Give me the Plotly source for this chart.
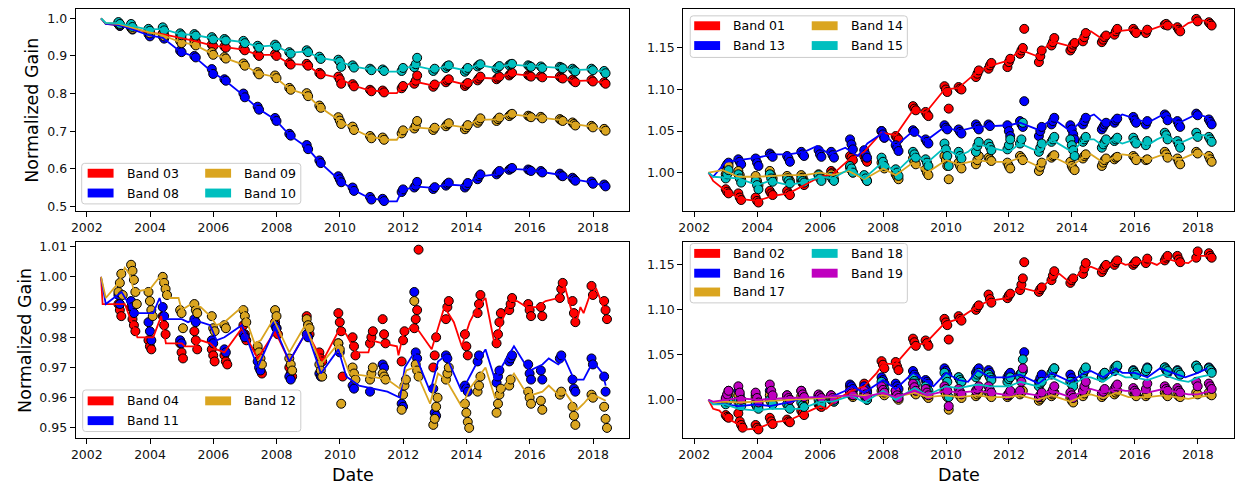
import plotly.graph_objects as go

W, H = 1238, 487
FONT = "DejaVu Sans"

# Calibration campaign dates (decimal years); each cluster's points are listed in time order
EPOCHS = [2003.0, 2003.4, 2003.95, 2004.4, 2004.95, 2005.4, 2005.95, 2006.35,
          2006.95, 2007.4, 2007.95, 2008.4, 2008.95, 2009.35, 2009.95, 2010.4,
          2010.95, 2011.35, 2011.95, 2012.35, 2012.95, 2013.35, 2013.95, 2014.35,
          2014.95, 2015.35, 2015.95, 2016.35, 2016.95, 2017.35, 2017.95, 2018.35]

YEAR_TICKS = [2002, 2004, 2006, 2008, 2010, 2012, 2014, 2016, 2018]

# ---------------- Panel 1: bands 03, 08, 09, 10 ----------------
B03_PTS = ["0.985 0.980", "0.977 0.973", "0.963 0.960", "0.960 0.956", "0.950 0.946",
           "0.942 0.938", "0.930 0.926", "0.925 0.922", "0.920 0.915", "0.905 0.900",
           "0.905 0.900", "0.881 0.877", "0.879 0.874", "0.855 0.851", "0.845 0.838 0.826",
           "0.825 0.819", "0.810 0.806", "0.808 0.803", "0.814 0.820", "0.826 0.834 0.848",
           "0.818 0.824", "0.830 0.835 0.838", "0.820 0.824 0.828", "0.835 0.840 0.845",
           "0.838 0.842 0.845", "0.848 0.852 0.855", "0.849 0.847 0.845", "0.846 0.843",
           "0.845 0.842 0.840", "0.837 0.833 0.830", "0.836 0.832", "0.830 0.826"]
B08_PTS = ["0.985 0.980", "0.975 0.970", "0.958 0.952", "0.952 0.946", "0.914 0.910",
           "0.900 0.896", "0.865 0.852", "0.838 0.834", "0.800 0.790", "0.765 0.757",
           "0.735 0.727", "0.693 0.688", "0.663 0.652", "0.622 0.615", "0.580 0.572 0.564",
           "0.550 0.541", "0.525 0.518", "0.520 0.514", "0.538 0.545", "0.550 0.555 0.565",
           "0.546 0.551", "0.555 0.560 0.563", "0.550 0.555 0.562", "0.572 0.580 0.585",
           "0.585 0.590 0.594", "0.597 0.600 0.602", "0.598 0.596 0.594", "0.594 0.590",
           "0.587 0.582 0.580", "0.576 0.572 0.568", "0.566 0.560", "0.558 0.553"]
B09_PTS = ["0.988 0.983", "0.978 0.972", "0.966 0.960", "0.958 0.952", "0.940 0.934",
           "0.933 0.928", "0.910 0.903", "0.897 0.893", "0.880 0.874", "0.857 0.851",
           "0.848 0.841", "0.815 0.810", "0.801 0.793", "0.768 0.762", "0.737 0.728 0.719",
           "0.712 0.703", "0.687 0.681", "0.683 0.677", "0.694 0.702", "0.707 0.714 0.727",
           "0.703 0.709", "0.713 0.718 0.721", "0.705 0.710 0.716", "0.722 0.728 0.734",
           "0.727 0.732 0.736", "0.740 0.744 0.746", "0.741 0.739 0.737", "0.738 0.734",
           "0.732 0.729 0.727", "0.723 0.719 0.715", "0.714 0.710", "0.706 0.701"]
B10_PTS = ["0.990 0.985", "0.985 0.977", "0.972 0.967", "0.976 0.968", "0.960 0.955",
           "0.958 0.954", "0.950 0.944", "0.945 0.941", "0.940 0.934", "0.927 0.922",
           "0.930 0.925", "0.910 0.906", "0.915 0.910", "0.898 0.892", "0.890 0.885 0.871",
           "0.875 0.869", "0.866 0.862", "0.864 0.860", "0.860 0.868", "0.870 0.878 0.895",
           "0.860 0.866", "0.868 0.873 0.875", "0.858 0.863 0.868", "0.872 0.876 0.878",
           "0.866 0.870 0.873", "0.875 0.878 0.879", "0.875 0.873 0.871", "0.872 0.868",
           "0.871 0.869 0.867", "0.866 0.862 0.859", "0.866 0.862", "0.860 0.854"]

B03_FIT = [(2002.45, 1.0), (2002.6, 0.985), (2003.0, 0.982), (2003.4, 0.975), (2003.95, 0.962),
           (2004.4, 0.958), (2004.95, 0.948), (2005.4, 0.940), (2005.95, 0.928), (2006.35, 0.924),
           (2006.95, 0.917), (2007.4, 0.903), (2007.95, 0.903), (2008.4, 0.879), (2008.95, 0.876),
           (2009.35, 0.853), (2009.95, 0.842), (2010.4, 0.822), (2010.95, 0.808), (2011.35, 0.806),
           (2011.5, 0.801), (2011.8, 0.801), (2011.95, 0.816), (2012.35, 0.832), (2012.95, 0.821),
           (2013.35, 0.836), (2013.95, 0.824), (2014.35, 0.842), (2014.95, 0.840), (2015.35, 0.853),
           (2015.95, 0.848), (2016.35, 0.845), (2016.95, 0.843), (2017.35, 0.833), (2017.95, 0.835),
           (2018.35, 0.828)]
B08_FIT = [(2002.45, 1.0), (2002.6, 0.985), (2003.0, 0.982), (2003.4, 0.972), (2003.95, 0.955),
           (2004.4, 0.948), (2004.95, 0.912), (2005.4, 0.898), (2005.95, 0.858), (2006.35, 0.836),
           (2006.95, 0.795), (2007.4, 0.761), (2007.95, 0.731), (2008.4, 0.690), (2008.95, 0.657),
           (2009.35, 0.618), (2009.95, 0.572), (2010.4, 0.545), (2010.95, 0.521), (2011.35, 0.517),
           (2011.5, 0.513), (2011.8, 0.513), (2011.95, 0.540), (2012.35, 0.553), (2012.95, 0.549),
           (2013.35, 0.558), (2013.95, 0.555), (2014.35, 0.579), (2014.95, 0.585), (2015.35, 0.600),
           (2015.95, 0.597), (2016.35, 0.592), (2016.95, 0.584), (2017.35, 0.572), (2017.95, 0.564),
           (2018.35, 0.555)]
B09_FIT = [(2002.45, 1.0), (2002.6, 0.987), (2003.0, 0.985), (2003.4, 0.975), (2003.95, 0.963),
           (2004.4, 0.955), (2004.95, 0.937), (2005.4, 0.930), (2005.95, 0.906), (2006.35, 0.895),
           (2006.95, 0.877), (2007.4, 0.854), (2007.95, 0.844), (2008.4, 0.812), (2008.95, 0.797),
           (2009.35, 0.765), (2009.95, 0.730), (2010.4, 0.707), (2010.95, 0.684), (2011.35, 0.680),
           (2011.5, 0.677), (2011.8, 0.677), (2011.95, 0.698), (2012.35, 0.710), (2012.95, 0.706),
           (2013.35, 0.717), (2013.95, 0.710), (2014.35, 0.730), (2014.95, 0.731), (2015.35, 0.745),
           (2015.95, 0.740), (2016.35, 0.736), (2016.95, 0.730), (2017.35, 0.719), (2017.95, 0.712),
           (2018.35, 0.703)]
B10_FIT = [(2002.45, 1.0), (2002.6, 0.988), (2003.0, 0.987), (2003.4, 0.980), (2003.95, 0.970),
           (2004.4, 0.972), (2004.95, 0.958), (2005.4, 0.956), (2005.95, 0.947), (2006.35, 0.943),
           (2006.95, 0.937), (2007.4, 0.925), (2007.95, 0.928), (2008.4, 0.908), (2008.95, 0.912),
           (2009.35, 0.895), (2009.95, 0.887), (2010.4, 0.872), (2010.95, 0.864), (2011.35, 0.862),
           (2011.5, 0.858), (2011.8, 0.858), (2011.95, 0.864), (2012.35, 0.874), (2012.95, 0.863),
           (2013.35, 0.872), (2013.95, 0.862), (2014.35, 0.876), (2014.95, 0.868), (2015.35, 0.877),
           (2015.95, 0.873), (2016.35, 0.870), (2016.95, 0.868), (2017.35, 0.862), (2017.95, 0.864),
           (2018.35, 0.857)]

# ---------------- Panel 2: bands 01, 13, 14, 15 ----------------
B01_PTS = ["0.980 0.977 0.975", "0.975 0.970 0.967", "0.970 0.966 0.964", "0.978 0.975 0.973",
           "0.978 0.975 0.973", "0.990 0.987 0.985", "0.997 0.995 0.993", "1.002 1.000 0.998",
           "1.020 1.018 1.015", "1.020 1.016 1.013", "1.050 1.046 1.042", "1.044 1.042 1.040",
           "1.080 1.077 1.075", "1.073 1.070 1.068", "1.104 1.100 1.097 1.077", "1.103 1.101 1.100",
           "1.115 1.119 1.123", "1.125 1.129 1.132", "1.127 1.133 1.137", "1.143 1.147 1.150 1.173",
           "1.133 1.140 1.147", "1.153 1.157 1.162", "1.147 1.150 1.154 1.156", "1.158 1.163 1.168",
           "1.157 1.160 1.163 1.165", "1.166 1.170 1.173", "1.173 1.170 1.168", "1.168 1.172",
           "1.178 1.179 1.177", "1.175 1.172 1.170", "1.185 1.182", "1.181 1.179 1.177"]
B13_PTS = ["1.007 1.010 1.012", "1.016 1.013 1.010", "1.017 1.012 1.008", "1.023 1.021 1.019",
           "1.020 1.017 1.013", "1.025 1.022 1.020", "1.027 1.022 1.019", "1.025 1.021 1.018",
           "1.040 1.034 1.028", "1.027 1.022 1.018", "1.050 1.046 1.042", "1.033 1.030 1.026",
           "1.051 1.049", "1.040 1.037 1.035", "1.057 1.054 1.052", "1.052 1.049 1.047",
           "1.058 1.055 1.052", "1.058 1.056", "1.057 1.050 1.044", "1.062 1.058 1.055 1.086",
           "1.044 1.050 1.055", "1.058 1.062 1.066", "1.057 1.052 1.046 1.040", "1.058 1.062 1.066",
           "1.052 1.055 1.058 1.060", "1.060 1.063 1.065", "1.067 1.063 1.060", "1.058 1.062",
           "1.070 1.068 1.063", "1.062 1.058 1.055", "1.071 1.069", "1.064 1.061 1.058"]
B14_PTS = ["0.998 1.003 1.008", "1.002 0.997 0.992", "0.996 0.990 0.985", "1.002 0.997 0.993",
           "0.996 0.993 0.990", "0.997 0.994 0.990", "0.998 0.995 0.992", "0.998 0.995 0.992",
           "1.006 1.003 1.000", "0.996 0.993 0.990", "1.012 1.008 1.005", "0.998 0.995 0.992",
           "1.017 1.013 1.010", "1.004 1.000 0.997", "1.020 1.015 1.008 0.992", "1.012 1.008 1.005",
           "1.010 1.015 1.020", "1.018 1.016 1.014", "1.012 1.008 1.005", "1.020 1.018 1.015",
           "1.002 1.007 1.012", "1.018 1.020 1.021", "1.013 1.008 1.005 1.003", "1.017 1.020 1.022",
           "1.008 1.012 1.015 1.017", "1.016 1.018 1.019", "1.020 1.018 1.015", "1.015 1.016",
           "1.025 1.022 1.018", "1.017 1.013 1.010", "1.025 1.023", "1.020 1.016 1.013"]
B15_PTS = ["0.993 0.998 1.003", "0.998 0.993 0.988", "0.990 0.985 0.980", "0.998 0.993 0.989",
           "0.993 0.990 0.987", "0.993 0.990 0.988", "0.997 0.993 0.990", "0.995 0.992 0.990",
           "1.008 1.005 1.000", "0.997 0.993 0.990", "1.018 1.013 1.008", "1.004 1.000 0.996",
           "1.025 1.022 1.018", "1.016 1.012 1.008", "1.035 1.028 1.020 1.008", "1.025 1.020 1.017",
           "1.025 1.032 1.037", "1.035 1.031 1.027", "1.028 1.033 1.040", "1.035 1.040 1.060",
           "1.025 1.030 1.035", "1.037 1.040 1.043", "1.040 1.033 1.027 1.020", "1.037 1.040 1.043",
           "1.030 1.034 1.037 1.040", "1.038 1.040 1.042", "1.042 1.038 1.035", "1.033 1.038",
           "1.048 1.045 1.040", "1.038 1.034 1.030", "1.048 1.043", "1.043 1.040 1.037"]

B01_FIT = [(2002.45, 1.0), (2002.6, 0.990), (2003.0, 0.978), (2003.5, 0.968), (2004.0, 0.966),
           (2004.5, 0.972), (2005.0, 0.975), (2005.5, 0.985), (2006.0, 0.995), (2006.4, 0.998),
           (2006.9, 1.015), (2007.4, 1.025), (2007.95, 1.048), (2008.4, 1.045), (2008.95, 1.075),
           (2009.35, 1.072), (2009.95, 1.100), (2010.4, 1.102), (2010.95, 1.120), (2011.35, 1.128),
           (2012.0, 1.135), (2012.35, 1.148), (2012.9, 1.140), (2013.35, 1.158), (2013.95, 1.152),
           (2014.35, 1.165), (2014.6, 1.170), (2015.0, 1.160), (2015.4, 1.170), (2015.9, 1.172),
           (2016.35, 1.170), (2016.95, 1.178), (2017.2, 1.178), (2017.4, 1.172), (2017.7, 1.180),
           (2017.95, 1.183), (2018.2, 1.183), (2018.4, 1.179)]
B13_FIT = [(2002.45, 1.0), (2002.6, 0.995), (2003.0, 1.013), (2003.4, 1.015), (2004.0, 1.018),
           (2004.5, 1.022), (2005.0, 1.022), (2005.5, 1.025), (2005.9, 1.032), (2006.3, 1.022),
           (2006.8, 1.030), (2007.2, 1.020), (2007.5, 1.035), (2008.0, 1.048), (2008.4, 1.032),
           (2008.95, 1.050), (2009.35, 1.038), (2009.95, 1.055), (2010.4, 1.050), (2010.95, 1.055),
           (2011.35, 1.056), (2012.0, 1.057), (2012.35, 1.060), (2012.9, 1.052), (2013.4, 1.065),
           (2013.95, 1.050), (2014.4, 1.065), (2014.7, 1.070), (2015.0, 1.060), (2015.4, 1.065),
           (2015.6, 1.070), (2016.0, 1.065), (2016.4, 1.060), (2016.9, 1.070), (2017.4, 1.060),
           (2017.95, 1.070), (2018.3, 1.067), (2018.4, 1.060)]
B14_FIT = [(2002.45, 1.0), (2002.9, 1.003), (2003.4, 0.995), (2004.0, 0.995), (2004.5, 0.996),
           (2005.0, 0.997), (2005.5, 0.997), (2006.0, 1.000), (2006.4, 0.997), (2006.9, 1.002),
           (2007.4, 0.992), (2008.0, 1.005), (2008.4, 0.997), (2008.95, 1.012), (2009.4, 1.000),
           (2010.0, 1.015), (2010.4, 1.010), (2011.0, 1.015), (2011.4, 1.013), (2012.0, 1.013),
           (2012.35, 1.018), (2012.9, 1.008), (2013.35, 1.020), (2014.0, 1.008), (2014.4, 1.020),
           (2014.6, 1.022), (2015.0, 1.012), (2015.4, 1.020), (2015.6, 1.022), (2016.0, 1.020),
           (2016.4, 1.015), (2016.9, 1.022), (2017.4, 1.015), (2017.7, 1.020), (2018.0, 1.025),
           (2018.4, 1.018)]
B15_FIT = [(2002.45, 1.0), (2002.6, 0.995), (2003.0, 0.994), (2003.4, 0.993), (2004.0, 0.985),
           (2004.4, 0.990), (2005.0, 0.985), (2005.4, 0.988), (2006.0, 0.995), (2006.4, 0.993),
           (2006.95, 1.005), (2007.4, 0.993), (2008.0, 1.013), (2008.4, 1.000), (2009.0, 1.022),
           (2009.4, 1.012), (2009.95, 1.030), (2010.4, 1.020), (2010.7, 1.025), (2011.0, 1.035),
           (2011.4, 1.030), (2012.0, 1.025), (2012.35, 1.035), (2012.95, 1.025), (2013.35, 1.040),
           (2014.0, 1.025), (2014.4, 1.040), (2014.7, 1.040), (2015.0, 1.032), (2015.3, 1.040),
           (2015.6, 1.035), (2016.0, 1.040), (2016.4, 1.033), (2016.7, 1.040), (2017.0, 1.045),
           (2017.4, 1.035), (2017.7, 1.040), (2018.0, 1.045), (2018.2, 1.045), (2018.4, 1.040)]

# ---------------- Panel 3: bands 04, 11, 12 ----------------
B04_PTS = ["0.991 0.989 0.987", "0.990 0.986 0.984 0.982", "0.979 0.977 0.976", "0.987 0.984 0.981",
           "0.978 0.975 0.973", "0.982 0.979 0.976", "0.976 0.974 0.972", "0.974 0.972 0.971",
           "0.984 0.981 0.979", "0.976 0.972 0.969 0.968", "0.985 0.983 0.981", "0.970 0.968 0.967",
           "0.987 0.984 0.981", "0.975 0.973 0.972", "0.988 0.985 0.982 0.967", "0.980 0.977 0.974",
           "0.978 0.980 0.982", "0.986 0.981 0.978", "0.972 0.979 0.982", "0.983 0.986 0.989 1.009",
           "0.970 0.974 0.980", "0.986 0.990 0.992", "0.981 0.977 0.974", "0.988 0.991 0.994",
           "0.978 0.981 0.985 0.988", "0.989 0.991 0.993", "0.991 0.989 0.987", "0.990 0.987",
           "0.993 0.996 0.998", "0.992 0.988 0.985", "0.997 0.994", "0.992 0.989 0.986"]
B11_PTS = ["0.994 0.991", "0.992 0.990 0.988", "0.985 0.982 0.979", "0.990 0.987",
           "0.979 0.978", "0.986 0.985", "0.979 0.978", "0.976 0.975",
           "0.981 0.980", "0.972 0.970 0.969", "0.984 0.983", "0.967 0.966",
           "0.981 0.980", "0.968 0.967", "0.978 0.975", "0.964 0.963",
           "0.962", "0.971 0.970", "0.958 0.957", "0.995 0.975 0.973",
           "0.963 0.955 0.954", "0.974 0.973", "0.964 0.963 0.962", "0.972 0.974",
           "0.965 0.967 0.969", "0.972 0.973 0.974", "0.971 0.968 0.966", "0.969 0.966",
           "0.973 0.974", "0.966 0.963 0.962", "0.973 0.971", "0.967 0.962"]
B12_PTS = ["0.995 0.998 1.001 0.994", "1.004 1.002 0.999 0.995 0.991", "0.995 0.992 0.989 0.987",
           "1.000 0.998 0.996 0.994", "0.989 0.988 0.983", "0.991 0.989 0.988", "0.987 0.983 0.982",
           "0.984 0.983", "0.989 0.987 0.985", "0.977 0.975 0.973 0.971", "0.989 0.987",
           "0.973 0.971 0.969", "0.986 0.984 0.983", "0.971 0.969 0.967", "0.978 0.976 0.958",
           "0.970 0.968 0.966", "0.966 0.968 0.970", "0.968 0.967 0.966", "0.956 0.961 0.964 0.966",
           "0.992 0.971 0.969 0.967", "0.951 0.953 0.957 0.960", "0.966 0.968 0.970",
           "0.958 0.955 0.952 0.950", "0.962 0.964 0.967", "0.955 0.958 0.961 0.963", "0.964 0.966",
           "0.962 0.960 0.958", "0.959 0.956", "0.961 0.962", "0.957 0.954 0.951", "0.961 0.960",
           "0.957 0.953 0.950"]

B04_FIT = [(2002.45, 1.0), (2002.5, 0.991), (2003.2, 0.991), (2003.6, 0.980), (2004.1, 0.980),
           (2004.35, 0.987), (2004.5, 0.978), (2005.0, 0.978), (2005.1, 0.977), (2005.4, 0.977),
           (2005.6, 0.979), (2005.9, 0.978), (2006.1, 0.976), (2006.35, 0.975), (2006.9, 0.983),
           (2007.4, 0.973), (2007.95, 0.982), (2008.4, 0.972), (2008.95, 0.982), (2009.45, 0.972),
           (2010.0, 0.983), (2010.2, 0.981), (2010.5, 0.975), (2010.9, 0.975), (2011.0, 0.979),
           (2011.35, 0.978), (2011.8, 0.977), (2011.85, 0.974), (2012.0, 0.981), (2012.3, 0.984),
           (2012.5, 0.982), (2012.9, 0.976), (2013.3, 0.990), (2013.6, 0.985), (2013.85, 0.977),
           (2014.1, 0.985), (2014.35, 0.990), (2014.6, 0.993), (2014.9, 0.977), (2015.1, 0.985),
           (2015.4, 0.992), (2015.6, 0.992), (2015.9, 0.990), (2016.2, 0.990), (2016.5, 0.992),
           (2016.9, 0.993), (2017.1, 0.997), (2017.3, 0.990), (2017.45, 0.984), (2017.6, 0.990),
           (2017.7, 0.988), (2017.9, 0.994), (2018.1, 0.996), (2018.4, 0.988)]
B11_FIT = [(2002.45, 1.0), (2002.6, 0.991), (2003.1, 0.995), (2003.5, 0.988), (2004.1, 0.988),
           (2004.3, 0.993), (2004.5, 0.986), (2005.0, 0.986), (2005.2, 0.985), (2005.4, 0.986),
           (2005.6, 0.985), (2005.9, 0.984), (2006.1, 0.979), (2006.35, 0.980), (2006.9, 0.984),
           (2007.4, 0.970), (2007.95, 0.983), (2008.4, 0.972), (2008.95, 0.982), (2009.4, 0.968),
           (2009.95, 0.976), (2010.2, 0.967), (2010.6, 0.964), (2011.0, 0.963), (2011.5, 0.962),
           (2011.9, 0.960), (2012.05, 0.970), (2012.35, 0.975), (2012.85, 0.962), (2013.1, 0.972),
           (2013.35, 0.974), (2013.85, 0.962), (2014.3, 0.971), (2014.6, 0.976), (2014.9, 0.966),
           (2015.1, 0.970), (2015.5, 0.977), (2015.8, 0.972), (2016.0, 0.969), (2016.4, 0.971),
           (2016.6, 0.973), (2016.9, 0.971), (2017.1, 0.973), (2017.4, 0.966), (2017.7, 0.966),
           (2017.9, 0.970), (2018.0, 0.972), (2018.3, 0.968), (2018.4, 0.964)]
B12_FIT = [(2002.45, 1.0), (2002.6, 0.993), (2003.0, 0.998), (2003.2, 1.003), (2003.35, 1.001),
           (2003.5, 0.995), (2004.0, 0.996), (2004.3, 1.000), (2004.6, 0.993), (2004.9, 0.993),
           (2005.0, 0.989), (2005.3, 0.991), (2005.6, 0.990), (2005.9, 0.987), (2006.1, 0.984),
           (2006.35, 0.985), (2006.9, 0.990), (2007.3, 0.978), (2007.5, 0.979), (2007.9, 0.986),
           (2008.4, 0.975), (2008.9, 0.984), (2009.4, 0.971), (2009.95, 0.978), (2010.3, 0.968),
           (2011.0, 0.967), (2011.5, 0.966), (2011.9, 0.963), (2012.1, 0.969), (2012.35, 0.970),
           (2012.85, 0.958), (2013.1, 0.968), (2013.35, 0.966), (2013.85, 0.957), (2014.1, 0.963),
           (2014.4, 0.967), (2014.6, 0.970), (2014.9, 0.960), (2015.1, 0.962), (2015.5, 0.968),
           (2015.8, 0.963), (2016.1, 0.961), (2016.4, 0.962), (2016.6, 0.964), (2016.9, 0.961),
           (2017.1, 0.962), (2017.35, 0.958), (2017.5, 0.956), (2017.7, 0.958), (2017.95, 0.961),
           (2018.2, 0.960), (2018.4, 0.959)]

# ---------------- Panel 4: bands 02, 16, 17, 18, 19 ----------------
B02_PTS = ["0.983 0.981 0.980", "0.985 0.976 0.972 0.969", "0.972 0.969 0.967", "0.980 0.976 0.973",
           "0.978 0.976 0.975", "0.988 0.985 0.983", "0.995 0.993 0.992", "1.000 0.999 0.998",
           "1.015 1.012 1.010", "1.018 1.014 1.010", "1.043 1.039 1.035", "1.042 1.037 1.033",
           "1.068 1.064 1.060", "1.066 1.063 1.060", "1.090 1.086 1.083 1.067", "1.093 1.090 1.088",
           "1.100 1.103 1.105", "1.117 1.112 1.108", "1.113 1.116 1.118", "1.122 1.128 1.135 1.153",
           "1.120 1.123 1.125", "1.133 1.138 1.143", "1.130 1.133 1.135", "1.140 1.146 1.152",
           "1.142 1.145 1.148 1.150", "1.150 1.153 1.155", "1.150 1.152 1.154", "1.152 1.157",
           "1.155 1.158 1.160", "1.160 1.156 1.153", "1.158 1.165", "1.163 1.160 1.158"]
B16_PTS = ["1.000 1.005 1.010", "1.010 1.005 1.000", "1.005 1.000 0.995", "1.010 1.005 0.995",
           "1.005 1.000", "1.010 1.005 1.000", "1.005 1.000", "1.005 1.000",
           "1.017 1.015 1.012", "1.015 1.012 1.008", "1.025 1.022 1.018", "1.018 1.015 1.012",
           "1.032 1.028 1.025", "1.022 1.020 1.018", "1.035 1.032 1.028", "1.025 1.022 1.020",
           "1.030 1.033 1.035", "1.033 1.030 1.025", "1.025 1.028 1.030", "1.028 1.030 1.032 1.053",
           "1.020 1.024 1.028", "1.028 1.032 1.035", "1.028 1.024 1.020", "1.028 1.032 1.035",
           "1.025 1.027 1.030", "1.032 1.035 1.037", "1.033 1.030 1.028", "1.032 1.036",
           "1.036 1.033 1.030", "1.033 1.030 1.028", "1.038 1.035", "1.036 1.034 1.032"]
B17_PTS = ["0.998 1.002 1.005", "1.005 1.000 0.996", "1.002 0.998 0.994", "1.005 1.000 0.996",
           "1.002 0.999", "1.004 1.000 0.998", "1.004 1.000", "1.003 1.000",
           "1.008 1.005 1.003", "1.006 1.003 1.000", "1.010 1.007 1.005", "1.005 1.002 1.000",
           "1.012 1.008 1.006", "1.006 1.004 1.002", "1.010 1.006 1.003 0.989", "1.006 1.004 1.002",
           "1.004 1.006 1.008", "1.008 1.005 1.003", "1.003 1.005 1.006", "1.006 1.008 1.010",
           "0.999 1.001 1.003", "1.004 1.006 1.008", "1.002 0.999 0.997", "1.004 1.007 1.010",
           "1.003 1.005 1.007", "1.006 1.008 1.010", "1.008 1.006 1.004", "1.004 1.006",
           "1.008 1.006 1.004", "1.006 1.004 1.003", "1.008 1.006", "1.008 1.006 1.005"]
B18_PTS = ["0.995 0.998 1.000", "0.998 0.995 0.993", "0.995 0.992 0.990", "1.000 0.997 0.995",
           "0.995 0.992 0.990", "0.997 0.994 0.992", "1.000 0.997 0.995", "1.002 1.000 0.998",
           "1.010 1.007 1.005", "1.005 1.002 1.000", "1.020 1.016 1.012", "1.010 1.007 1.005",
           "1.025 1.021 1.018", "1.015 1.012 1.010", "1.030 1.025 1.020 1.003", "1.025 1.022 1.020",
           "1.025 1.028 1.030", "1.028 1.025 1.022", "1.020 1.023 1.025", "1.025 1.030 1.045",
           "1.015 1.018 1.020", "1.030 1.033 1.035", "1.020 1.017 1.015", "1.030 1.033 1.036",
           "1.025 1.028 1.030", "1.035 1.037 1.038", "1.032 1.030 1.028", "1.032 1.035",
           "1.036 1.034 1.032", "1.032 1.030 1.028", "1.038 1.035", "1.035 1.033 1.030"]
B19_PTS = ["1.002 1.006 1.010", "1.015 1.008 1.000", "1.008 1.002 0.997", "1.017 1.010 1.005",
           "1.005 1.002 1.000", "1.010 1.006 1.003", "1.006 1.004 1.002", "1.005 1.002 1.000",
           "1.010 1.007 1.005", "1.010 1.006 1.003", "1.015 1.011 1.008", "1.010 1.005 1.002",
           "1.018 1.014 1.010", "1.012 1.008 1.005", "1.015 1.012 1.010 0.993", "1.012 1.009 1.006",
           "1.010 1.012 1.015", "1.015 1.011 1.008", "1.005 1.007 1.010", "1.010 1.020 1.035",
           "1.003 1.005 1.008", "1.008 1.011 1.015", "1.008 1.005 1.002", "1.010 1.015 1.020",
           "1.007 1.009 1.012", "1.012 1.015 1.017", "1.013 1.010 1.008", "1.012 1.018",
           "1.015 1.012 1.010", "1.013 1.010 1.008", "1.020 1.015", "1.018 1.015 1.012"]

B02_FIT = [(2002.45, 1.0), (2002.6, 0.990), (2002.8, 0.988), (2003.0, 0.980), (2003.4, 0.973),
           (2003.6, 0.967), (2004.0, 0.968), (2004.5, 0.975), (2005.0, 0.977), (2005.5, 0.985),
           (2006.0, 0.993), (2006.2, 0.990), (2006.5, 1.000), (2007.0, 1.010), (2007.4, 1.015),
           (2007.8, 1.030), (2008.0, 1.040), (2008.4, 1.040), (2008.9, 1.060), (2009.35, 1.063),
           (2009.95, 1.085), (2010.4, 1.090), (2010.95, 1.103), (2011.35, 1.110), (2011.95, 1.113),
           (2012.35, 1.125), (2012.9, 1.120), (2013.35, 1.135), (2013.6, 1.140), (2013.95, 1.130),
           (2014.35, 1.145), (2014.6, 1.148), (2014.95, 1.143), (2015.4, 1.155), (2015.7, 1.150),
           (2016.0, 1.152), (2016.35, 1.155), (2016.7, 1.150), (2017.0, 1.157), (2017.4, 1.153),
           (2017.7, 1.152), (2018.0, 1.160), (2018.4, 1.160)]
B16_FIT = [(2002.45, 1.0), (2002.6, 0.997), (2003.0, 0.995), (2003.4, 0.993), (2004.0, 0.995),
           (2004.4, 0.993), (2005.0, 0.997), (2005.5, 1.002), (2006.0, 1.003), (2006.35, 1.003),
           (2006.8, 1.010), (2007.0, 1.015), (2007.4, 1.008), (2007.7, 1.015), (2008.0, 1.022),
           (2008.4, 1.012), (2008.95, 1.030), (2009.4, 1.020), (2009.6, 1.015), (2010.0, 1.030),
           (2010.4, 1.022), (2010.7, 1.020), (2011.0, 1.033), (2011.4, 1.025), (2011.95, 1.025),
           (2012.35, 1.028), (2012.95, 1.018), (2013.35, 1.030), (2013.95, 1.020), (2014.4, 1.030),
           (2014.6, 1.032), (2015.0, 1.025), (2015.4, 1.035), (2015.6, 1.030), (2016.0, 1.030),
           (2016.4, 1.025), (2016.8, 1.035), (2017.2, 1.030), (2017.6, 1.025), (2018.0, 1.030),
           (2018.3, 1.035)]
B17_FIT = [(2002.45, 1.0), (2002.6, 0.997), (2003.0, 0.998), (2003.4, 0.997), (2004.0, 0.998),
           (2005.0, 1.000), (2006.0, 1.002), (2007.0, 1.005), (2008.0, 1.005), (2008.4, 1.003),
           (2009.0, 1.008), (2009.4, 1.003), (2010.0, 1.005), (2010.4, 1.003), (2011.0, 1.005),
           (2011.4, 1.003), (2012.0, 1.003), (2012.35, 1.005), (2012.9, 1.000), (2013.35, 1.005),
           (2013.95, 0.998), (2014.4, 1.005), (2014.6, 1.006), (2015.0, 1.002), (2015.4, 1.008),
           (2015.8, 1.003), (2016.4, 1.003), (2016.9, 1.005), (2017.4, 1.002), (2017.7, 1.001),
           (2018.0, 1.003), (2018.4, 1.005)]
B18_FIT = [(2002.45, 1.0), (2002.6, 0.995), (2003.0, 0.995), (2003.4, 0.990), (2004.0, 0.988),
           (2004.4, 0.990), (2005.0, 0.990), (2005.4, 0.990), (2006.0, 0.998), (2006.4, 0.998),
           (2007.0, 1.005), (2007.4, 0.997), (2008.0, 1.010), (2008.4, 1.000), (2009.0, 1.013),
           (2009.4, 1.005), (2010.0, 1.015), (2010.4, 1.013), (2011.0, 1.017), (2011.4, 1.015),
           (2012.0, 1.015), (2012.35, 1.020), (2012.9, 1.015), (2013.35, 1.025), (2013.95, 1.015),
           (2014.4, 1.025), (2014.6, 1.025), (2015.0, 1.020), (2015.4, 1.030), (2015.7, 1.025),
           (2016.0, 1.025), (2016.4, 1.022), (2016.9, 1.028), (2017.4, 1.022), (2017.7, 1.020),
           (2018.0, 1.025), (2018.4, 1.028)]
B19_FIT = [(2002.45, 1.0), (2002.6, 0.998), (2003.0, 1.000), (2003.4, 1.002), (2004.0, 1.000),
           (2005.0, 1.002), (2006.0, 1.003), (2007.0, 1.005), (2007.4, 1.003), (2008.0, 1.008),
           (2008.4, 1.003), (2009.0, 1.010), (2009.4, 1.005), (2010.0, 1.010), (2010.4, 1.008),
           (2011.0, 1.010), (2011.4, 1.008), (2012.0, 1.005), (2012.35, 1.008), (2012.9, 1.005),
           (2013.35, 1.010), (2013.95, 1.003), (2014.4, 1.010), (2014.6, 1.012), (2015.0, 1.008),
           (2015.4, 1.012), (2015.7, 1.010), (2016.0, 1.010), (2016.4, 1.008), (2016.9, 1.012),
           (2017.4, 1.008), (2017.7, 1.006), (2018.0, 1.006), (2018.4, 1.010)]

RED, BLUE, GOLD, CYAN, MAGENTA = "#ff0000", "#0000ff", "#daa520", "#00bfbf", "#bf00bf"

# panel id -> list of (label, colour, points, fit)
PANELS = {
    1: [("Band 03", RED, B03_PTS, B03_FIT), ("Band 08", BLUE, B08_PTS, B08_FIT),
        ("Band 09", GOLD, B09_PTS, B09_FIT), ("Band 10", CYAN, B10_PTS, B10_FIT)],
    2: [("Band 01", RED, B01_PTS, B01_FIT), ("Band 13", BLUE, B13_PTS, B13_FIT),
        ("Band 14", GOLD, B14_PTS, B14_FIT), ("Band 15", CYAN, B15_PTS, B15_FIT)],
    3: [("Band 04", RED, B04_PTS, B04_FIT), ("Band 11", BLUE, B11_PTS, B11_FIT),
        ("Band 12", GOLD, B12_PTS, B12_FIT)],
    4: [("Band 02", RED, B02_PTS, B02_FIT), ("Band 16", BLUE, B16_PTS, B16_FIT),
        ("Band 17", GOLD, B17_PTS, B17_FIT), ("Band 18", CYAN, B18_PTS, B18_FIT),
        ("Band 19", MAGENTA, B19_PTS, B19_FIT)],
}

STEP = 0.045  # spacing (years) between successive observations in one campaign


def expand(clusters):
    xs, ys = [], []
    for t0, s in zip(EPOCHS, clusters):
        for k, v in enumerate(s.split()):
            xs.append(t0 + STEP * k)
            ys.append(float(v))
    return xs, ys


fig = go.Figure()

for pid, bands in PANELS.items():
    xa = "x" if pid == 1 else f"x{pid}"
    ya = "y" if pid == 1 else f"y{pid}"
    # observations first (underneath), then the fitted curves on top
    for label, col, pts, fit in bands:
        xs, ys = expand(pts)
        fig.add_trace(go.Scatter(x=xs, y=ys, mode="markers", xaxis=xa, yaxis=ya,
                                 marker=dict(size=9, color=col, line=dict(color="black", width=1)),
                                 showlegend=False, hoverinfo="skip"))
    for label, col, pts, fit in bands:
        fig.add_trace(go.Scatter(x=[p[0] for p in fit], y=[p[1] for p in fit], mode="lines",
                                 xaxis=xa, yaxis=ya, line=dict(color=col, width=1.8),
                                 showlegend=False, hoverinfo="skip"))


def px_x(p):
    return p / W


def px_y(p):
    return 1 - p / H


LEFT_X, RIGHT_X = (71, 627), (681, 1234)
TOP_Y, BOT_Y = (7, 211), (242, 441)

axis_common = dict(showline=True, linecolor="black", linewidth=1, mirror=True,
                   ticks="outside", ticklen=5, tickwidth=1, tickcolor="black",
                   showgrid=False, zeroline=False,
                   tickfont=dict(family=FONT, size=12.5, color="#111"))

Y_SPECS = {
    1: dict(range=[0.488, 1.025], tickvals=[0.5, 0.6, 0.7, 0.8, 0.9, 1.0], tickformat=".1f"),
    2: dict(range=[0.954, 1.197], tickvals=[1.00, 1.05, 1.10, 1.15], tickformat=".2f"),
    3: dict(range=[0.9465, 1.0117], tickvals=[0.95, 0.96, 0.97, 0.98, 0.99, 1.00, 1.01],
            tickformat=".2f"),
    4: dict(range=[0.957, 1.176], tickvals=[1.00, 1.05, 1.10, 1.15], tickformat=".2f"),
}
DOMS = {1: (LEFT_X, TOP_Y), 2: (RIGHT_X, TOP_Y), 3: (LEFT_X, BOT_Y), 4: (RIGHT_X, BOT_Y)}

layout = {}
for pid, ((x0, x1), (y0, y1)) in DOMS.items():
    xk = "xaxis" if pid == 1 else f"xaxis{pid}"
    yk = "yaxis" if pid == 1 else f"yaxis{pid}"
    ya = "y" if pid == 1 else f"y{pid}"
    xa = "x" if pid == 1 else f"x{pid}"
    layout[xk] = dict(axis_common, domain=[px_x(x0), px_x(x1)], anchor=ya,
                      range=[2001.65, 2019.15], tickvals=YEAR_TICKS,
                      ticktext=[str(y) for y in YEAR_TICKS])
    layout[yk] = dict(axis_common, domain=[px_y(y1), px_y(y0)], anchor=xa, **Y_SPECS[pid])

fig.update_layout(width=W, height=H, margin=dict(l=0, r=0, t=0, b=0),
                  paper_bgcolor="white", plot_bgcolor="white", showlegend=False,
                  font=dict(family=FONT, color="black"), **layout)

annotations = []
shapes = []

# axis titles
for cy in ((TOP_Y[0] + TOP_Y[1]) / 2, (BOT_Y[0] + BOT_Y[1]) / 2):
    cx = 27 if cy < 200 else 20
    annotations.append(dict(text="Normalized Gain", x=px_x(cx), y=px_y(cy), xref="paper",
                            yref="paper", showarrow=False, textangle=-90,
                            font=dict(family=FONT, size=17.5, color="black"),
                            xanchor="center", yanchor="middle"))
for (x0, x1) in (LEFT_X, RIGHT_X):
    annotations.append(dict(text="Date", x=px_x((x0 + x1) / 2), y=px_y(478), xref="paper",
                            yref="paper", showarrow=False,
                            font=dict(family=FONT, size=17.5, color="black"),
                            xanchor="center", yanchor="middle"))


def rounded_box(x0, y0, x1, y1, r=3):
    X = lambda p: px_x(p)
    Y = lambda p: px_y(p)
    return (f"M {X(x0 + r)},{Y(y0)} L {X(x1 - r)},{Y(y0)} Q {X(x1)},{Y(y0)} {X(x1)},{Y(y0 + r)} "
            f"L {X(x1)},{Y(y1 - r)} Q {X(x1)},{Y(y1)} {X(x1 - r)},{Y(y1)} "
            f"L {X(x0 + r)},{Y(y1)} Q {X(x0)},{Y(y1)} {X(x0)},{Y(y1 - r)} "
            f"L {X(x0)},{Y(y0 + r)} Q {X(x0)},{Y(y0)} {X(x0 + r)},{Y(y0)} Z")


# legend geometry: box, swatch column starts, row centres (pixels)
LEGENDS = [
    (1, (77, 163, 297, 204), (83, 201), (173, 193)),
    (2, (688, 14, 906, 56), (692, 810), (24, 44)),
    (3, (78, 392, 297, 434), (83, 201), (403, 423)),
    (4, (688, 244, 906, 304), (692, 810), (254, 274, 293)),
]

for pid, box, cols, rows in LEGENDS:
    bands = PANELS[pid]
    shapes.append(dict(type="path", path=rounded_box(*box), xref="paper", yref="paper",
                       fillcolor="rgba(255,255,255,0.8)", line=dict(color="#cccccc", width=1),
                       layer="above"))
    nrows = len(rows)
    for i, (label, col, _, _) in enumerate(bands):
        c, r = divmod(i, nrows)
        sx, sy = cols[c], rows[r]
        shapes.append(dict(type="rect", xref="paper", yref="paper",
                           x0=px_x(sx), x1=px_x(sx + 26), y0=px_y(sy + 4.5), y1=px_y(sy - 4.5),
                           fillcolor=col, line=dict(width=0), layer="above"))
        annotations.append(dict(text=label, x=px_x(sx + 37), y=px_y(sy), xref="paper",
                                yref="paper", showarrow=False, xanchor="left", yanchor="middle",
                                font=dict(family=FONT, size=12.5, color="black")))

fig.update_layout(annotations=annotations, shapes=shapes)
fig.write_html("out.html")
